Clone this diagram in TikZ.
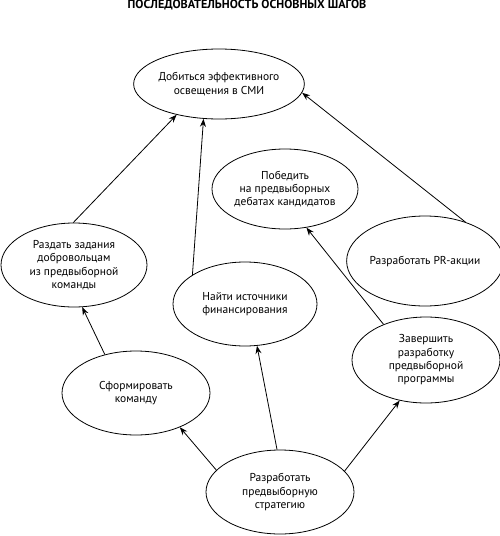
\documentclass[tikz,border=0pt]{standalone}
\usepackage{fontspec}
\setmainfont{PT Sans}
\usetikzlibrary{shapes.geometric,arrows.meta}
\begin{document}
\begin{tikzpicture}[x=0.75pt,y=-0.75pt,
  stepell/.style={ellipse,draw,line width=0.6pt,inner sep=0pt,align=center,font=\fontsize{8.6}{10}\selectfont},
  conn/.style={line width=0.6pt,-{Stealth[length=6pt,width=4.5pt]}}]
\useasboundingbox (0,0) rectangle (500,536);
\node[font=\bfseries\fontsize{9.1}{10}\selectfont] (title) at (247,5) {ПОСЛЕДОВАТЕЛЬНОСТЬ ОСНОВНЫХ ШАГОВ};
\node[stepell,minimum width=111pt,minimum height=52.5pt] (A) at (219,84) {Добиться эффективного\\освещения в СМИ};
\node[stepell,minimum width=109.5pt,minimum height=60pt] (B) at (285,189) {Победить\\на предвыборных\\дебатах кандидатов};
\node[stepell,minimum width=109.5pt,minimum height=67.5pt] (C) at (425,261) {Разработать PR-акции};
\node[stepell,minimum width=109.5pt,minimum height=63pt] (D) at (74,265) {Раздать задания\\добровольцам\\из предвыборной\\команды};
\node[stepell,minimum width=108pt,minimum height=63pt] (E) at (245,304) {Найти источники\\финансирования};
\node[stepell,minimum width=111pt,minimum height=63pt] (F) at (136,393) {Сформировать\\команду};
\node[stepell,minimum width=111pt,minimum height=64.5pt] (G) at (426,360) {Завершить\\разработку\\предвыборной\\программы};
\node[stepell,minimum width=111pt,minimum height=63pt] (H) at (280,492) {Разработать\\предвыборную\\стратегию};
\draw[conn] (D.91) -- (A.216);
\draw[conn] (E.151) -- (A.246);
\draw[conn] (C.44) -- (A.354);
\draw[conn] (G.140) -- (B.299);
\draw[conn] (F.129) -- (D.281);
\draw[conn] (H.161) -- (F.322);
\draw[conn] (H.94) -- (E.286);
\draw[conn] (H.18) -- (G.237);
\end{tikzpicture}
\end{document}
